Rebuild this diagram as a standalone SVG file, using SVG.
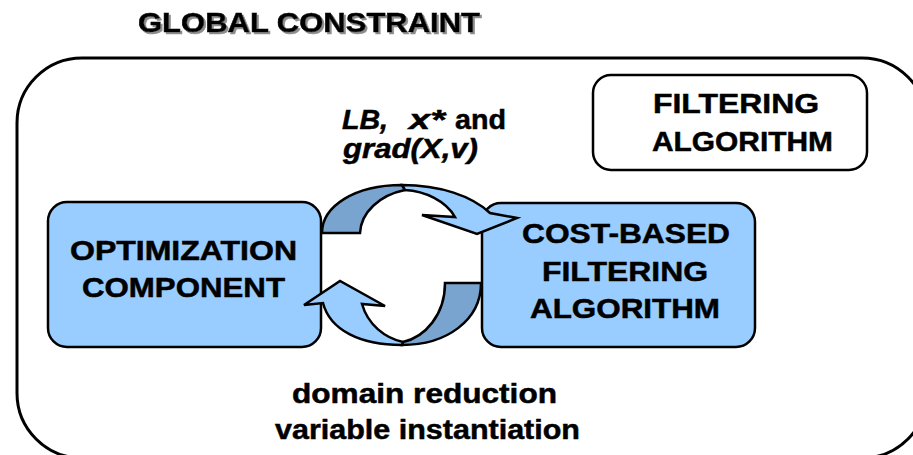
<svg xmlns="http://www.w3.org/2000/svg" width="913" height="455" viewBox="0 0 913 455">
  <style>
    .t { font-family: "Liberation Sans", Arial, sans-serif; font-weight: bold; font-size: 28px; fill: #000; stroke: #000; stroke-width: 0.5; }
    .it { font-style: italic; }
    .node { fill: #99CCFF; stroke: #000; stroke-width: 2.5; }
    .plain { fill: #FFFFFF; stroke: #000; stroke-width: 2.5; }
    .band { fill: #99CCFF; stroke: #000; stroke-width: 2.5; stroke-linejoin: miter; }
    .back { fill: #78A4CF; stroke: #000; stroke-width: 2.5; stroke-linejoin: miter; }
  </style>
  <defs>
    <filter id="shadow" x="-5%" y="-20%" width="110%" height="150%">
      <feDropShadow dx="2" dy="2" stdDeviation="0.7" flood-color="#808080" flood-opacity="0.9"/>
    </filter>
  </defs>
  <rect width="913" height="455" fill="#FFFFFF"/>

  <!-- title with drop shadow -->
  <g id="title">
    <text class="t" x="138" y="32" font-size="27" textLength="342" lengthAdjust="spacingAndGlyphs" filter="url(#shadow)">GLOBAL CONSTRAINT</text>
  </g>

  <!-- enclosing global constraint frame -->
  <g id="global-constraint">
    <rect x="17" y="58" width="910" height="400" rx="65" ry="65" fill="none" stroke="#000" stroke-width="3"/>
  </g>

  <g id="filtering-algorithm">
    <rect class="plain" x="593" y="75" width="274" height="95" rx="18" ry="18"/>
    <text class="t" x="653" y="113" textLength="166" lengthAdjust="spacingAndGlyphs">FILTERING</text>
    <text class="t" x="652" y="151" textLength="181" lengthAdjust="spacingAndGlyphs">ALGORITHM</text>
  </g>

  <g id="optimization-component">
    <rect class="node" x="48" y="202" width="273" height="145" rx="19" ry="19"/>
    <text class="t" x="70" y="260" textLength="227" lengthAdjust="spacingAndGlyphs">OPTIMIZATION</text>
    <text class="t" x="82" y="297" textLength="203" lengthAdjust="spacingAndGlyphs">COMPONENT</text>
  </g>

  <g id="cost-based-filtering">
    <rect class="node" x="482" y="203" width="273" height="144" rx="19" ry="19"/>
    <text class="t" x="522" y="243" textLength="208" lengthAdjust="spacingAndGlyphs">COST-BASED</text>
    <text class="t" x="542" y="281" textLength="166" lengthAdjust="spacingAndGlyphs">FILTERING</text>
    <text class="t" x="530" y="318" textLength="190" lengthAdjust="spacingAndGlyphs">ALGORITHM</text>
  </g>

  <!-- circular exchange arrows between the two components -->
  <g id="connectors">
    <!-- upper arrow: optimization -> filtering -->
    <path class="back" d="M 322,233 C 322,206 355,185 402,185 L 405,190 C 380,195 361,212 360,233 Z"/>
    <path class="band" d="M 402,185 C 440,185 472,196 490,213 L 517,218 L 477,234 L 422,215 L 455,217 C 446,201 425,191 405,190 Z"/>
    <!-- lower arrow: filtering -> optimization -->
    <path class="back" d="M 402,345 L 403,342 C 425,337 445,315 445,283 L 481,283 C 481,320 447,345 402,345 Z"/>
    <path class="band" d="M 402,345 C 360,345 330,330 323,303 L 304,305 L 340,281 L 385,306 L 362,304 C 368,325 385,338 403,342 Z"/>
  </g>

  <g id="labels">
    <text class="t it" x="342" y="129" font-size="25" textLength="46" lengthAdjust="spacingAndGlyphs">LB,</text>
    <text class="t it" x="409" y="129" font-size="25" textLength="36" lengthAdjust="spacingAndGlyphs">x*</text>
    <text class="t" x="455" y="129" font-size="25" textLength="51" lengthAdjust="spacingAndGlyphs">and</text>
    <text class="t it" x="343" y="158" font-size="25" textLength="135" lengthAdjust="spacingAndGlyphs">grad(X,v)</text>
    <text class="t" x="292" y="403" textLength="265" lengthAdjust="spacingAndGlyphs">domain reduction</text>
    <text class="t" x="275" y="439" textLength="305" lengthAdjust="spacingAndGlyphs">variable instantiation</text>
  </g>
</svg>
